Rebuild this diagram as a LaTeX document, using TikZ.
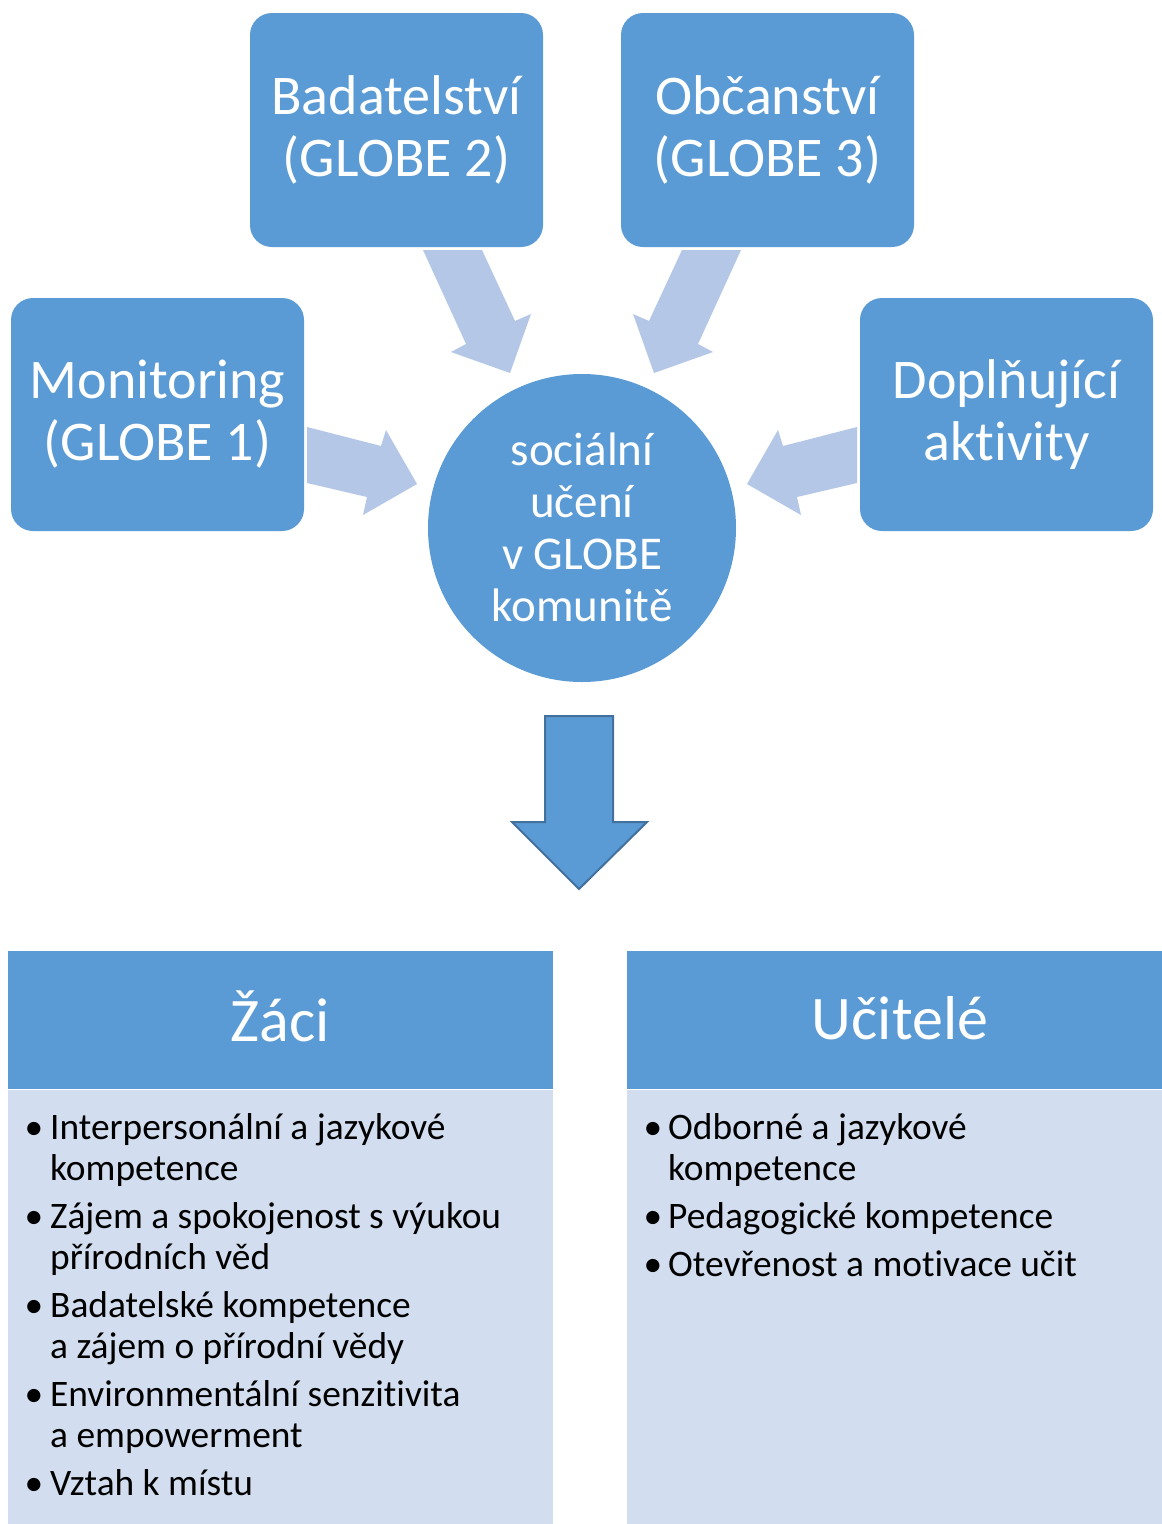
\documentclass[tikz,border=0pt]{standalone}
\usepackage{fontspec}
\setmainfont{Carlito}[Ligatures={NoCommon}]
\definecolor{mainblue}{RGB}{91,155,213}
\definecolor{lightarrow}{RGB}{180,199,231}
\definecolor{bodyfill}{RGB}{210,222,239}
\definecolor{arrowedge}{RGB}{65,113,156}
\tikzset{
  topbox/.style={draw=none, fill=mainblue, rounded corners=22pt},
  boxtext/.style={text=white, align=center, inner sep=0pt, font=\fontsize{56}{62}\selectfont},
  circtext/.style={text=white, align=center, inner sep=0pt, font=\fontsize{47}{52}\selectfont},
  headtext/.style={text=white, inner sep=0pt, font=\fontsize{62}{70}\selectfont},
  itemtext/.style={text=black, inner sep=0pt, anchor=base west, font=\fontsize{37.4}{41}\selectfont},
  bulletmark/.style={text=black, inner sep=0pt, anchor=base, font=\fontsize{37.4}{41}\selectfont},
  softarrow/.style={fill=lightarrow, draw=none},
  mainarrow/.style={fill=mainblue, draw=arrowedge, line width=2pt, line join=miter},
}
\begin{document}
\begin{tikzpicture}[x=1pt,y=-1pt]
\useasboundingbox (0,0) rectangle (1162,1524);
\fill[white] (0,0) rectangle (1162,1524);

% top boxes
\fill[topbox] (250,13) rectangle (543,247);
\node[boxtext] (bad) at (396.5,130) {Badatelství\\(GLOBE 2)};
\fill[topbox] (621,13) rectangle (914,247);
\node[boxtext] (obc) at (767.5,130) {Občanství\\(GLOBE 3)};
\fill[topbox] (11,298) rectangle (304,531);
\node[boxtext] (mon) at (157.5,414.5) {Monitoring\\(GLOBE 1)};
\fill[topbox] (860,298) rectangle (1153,531);
\node[boxtext] (dop) at (1006.5,414.5) {Doplňující\\aktivity};

% circle
\fill[mainblue] (582,528) circle (154);
\node[circtext] (soc) at (582,527) {sociální\\učení\\v GLOBE\\komunitě};

% light arrows
\fill[softarrow] (423,250) -- (482,250) -- (515,321) -- (531,314) -- (510,373) -- (451,352) -- (466,344) -- cycle;
\fill[softarrow] (741,250) -- (682,250) -- (649,321) -- (633,314) -- (654,373) -- (713,352) -- (698,344) -- cycle;
\fill[softarrow] (307,427) -- (381,446) -- (386,430) -- (417,484) -- (363,515) -- (367,497) -- (307,483) -- cycle;
\fill[softarrow] (857,427) -- (783,446) -- (778,430) -- (747,484) -- (801,515) -- (797,497) -- (857,483) -- cycle;

% main arrow down
\filldraw[mainarrow] (545,716) -- (613,716) -- (613,822) -- (647,822) -- (579,889) -- (512,822) -- (545,822) -- cycle;

% bottom panels
\fill[mainblue] (8,951) rectangle (553,1089);
\fill[bodyfill] (8,1090) rectangle (553,1524);
\fill[mainblue] (627,951) rectangle (1162,1089);
\fill[bodyfill] (627,1090) rectangle (1162,1524);
\node[headtext] (zaci) at (280,1016) {Žáci};
\node[headtext] (ucit) at (900,1018) {Učitelé};

% left items
\node[bulletmark] at (34,1139) {•};
\node[itemtext] (l1a) at (50,1139) {Interpersonální a jazykové};
\node[itemtext] (l1b) at (50,1180) {kompetence};
\node[bulletmark] at (34,1228) {•};
\node[itemtext] (l2a) at (50,1228) {Zájem a spokojenost s výukou};
\node[itemtext] (l2b) at (50,1269) {přírodních věd};
\node[bulletmark] at (34,1317) {•};
\node[itemtext] (l3a) at (50,1317) {Badatelské kompetence};
\node[itemtext] (l3b) at (50,1358) {a zájem o přírodní vědy};
\node[bulletmark] at (34,1406) {•};
\node[itemtext] (l4a) at (50,1406) {Environmentální senzitivita};
\node[itemtext] (l4b) at (50,1447) {a empowerment};
\node[bulletmark] at (34,1495) {•};
\node[itemtext] (l5a) at (50,1495) {Vztah k místu};

% right items
\node[bulletmark] at (653,1139) {•};
\node[itemtext] (r1a) at (668,1139) {Odborné a jazykové};
\node[itemtext] (r1b) at (668,1180) {kompetence};
\node[bulletmark] at (653,1228) {•};
\node[itemtext] (r2a) at (668,1228) {Pedagogické kompetence};
\node[bulletmark] at (653,1276) {•};
\node[itemtext] (r3a) at (668,1276) {Otevřenost a motivace učit};
\end{tikzpicture}
\end{document}
